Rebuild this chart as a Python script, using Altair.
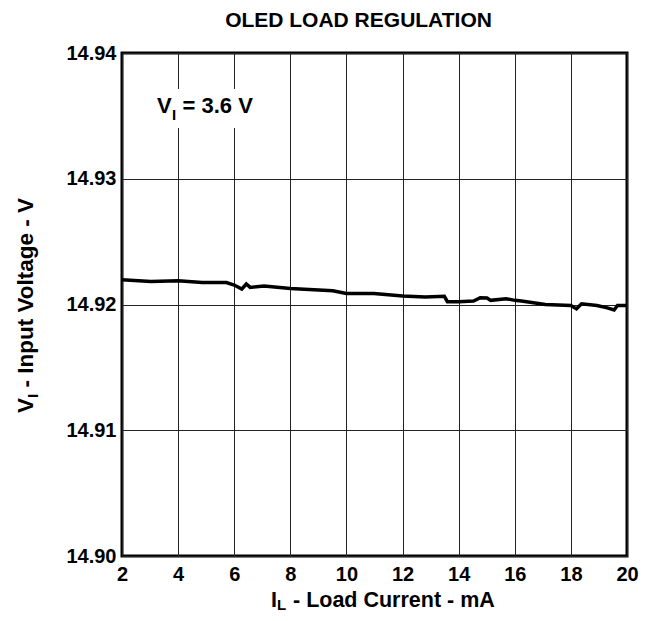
import altair as alt
import pandas as pd

# Data
current_ma = [2.0, 3.03, 4.0, 4.86, 5.72, 6.0, 6.27, 6.43, 6.57, 7.06, 8.0, 9.51, 10.0, 10.98,
              12.0, 12.81, 13.49, 13.6, 14.0, 14.53, 14.77, 15.01, 15.14, 15.69, 16.0, 16.24,
              17.09, 18.0, 18.2, 18.38, 18.93, 19.3, 19.54, 19.66, 20.0]
voltage_v = [14.92196, 14.92182, 14.92188, 14.92174, 14.92174, 14.92155, 14.92122, 14.92163,
             14.92136, 14.92147, 14.92128, 14.92109, 14.92087, 14.92087, 14.92068, 14.92060,
             14.92065, 14.92022, 14.92022, 14.92027, 14.92054, 14.92052, 14.92033, 14.92046,
             14.92033, 14.92027, 14.92000, 14.91992, 14.91965, 14.92005, 14.91992, 14.91973,
             14.91956, 14.91992, 14.91992]
x_ticks = [2, 4, 6, 8, 10, 12, 14, 16, 18, 20]
y_ticks = [14.90, 14.91, 14.92, 14.93, 14.94]

df = pd.DataFrame({"current": current_ma, "voltage": voltage_v})

FONT = "Liberation Sans"
one = alt.Data(values=[{}])

x_scale = alt.Scale(domain=[2, 20], nice=False)
y_scale = alt.Scale(domain=[14.90, 14.94], nice=False, zero=False)

line = alt.Chart(df).mark_line(color="black", strokeWidth=3.5, clip=True).encode(
    x=alt.X("current:Q", scale=x_scale,
            axis=alt.Axis(values=x_ticks, title=None, ticks=False, domain=False,
                          labelFontSize=20, labelFont=FONT, labelFontWeight="bold",
                          labelColor="black", labelPadding=8, gridColor="#222222",
                          gridWidth=1, gridOpacity=1, labelFlush=False)),
    y=alt.Y("voltage:Q", scale=y_scale,
            axis=alt.Axis(values=y_ticks, format=".2f", title=None, ticks=False, domain=False,
                          labelFontSize=20, labelFont=FONT, labelFontWeight="bold",
                          labelColor="black", labelPadding=6, gridColor="#222222",
                          gridWidth=1, gridOpacity=1, labelFlush=False)),
)

box = alt.Chart(one).mark_rect(color="white").encode(
    x=alt.value(24), x2=alt.value(142), y=alt.value(36), y2=alt.value(75))


def txt(s, x, y, size=21, angle=0, align="left"):
    return alt.Chart(one).mark_text(
        text=s, font=FONT, fontWeight="bold", fontSize=size, color="black",
        align=align, baseline="alphabetic", angle=angle).encode(
        x=alt.value(x), y=alt.value(y))


title = [txt("OLED LOAD REGULATION", 236.5, -26, 21, align="center")]
annot = [txt("V", 35, 60, 22), txt("I", 50, 67, 15), txt("= 3.6 V", 60.5, 60, 22)]
xtitle = [txt("I", 149, 554, 21.5), txt("L", 155, 557, 15),
          txt("- Load Current - mA", 171, 554, 21.5)]
ytitle = [txt("V", -89, 360, 22.5, angle=270), txt("I", -84, 345, 15, angle=270),
          txt("- Input Voltage - V", -89, 334.5, 22.5, angle=270)]

chart = alt.layer(box, line, *title, *annot, *xtitle, *ytitle).properties(
    width=505, height=503,
    autosize=alt.AutoSizeParams(type="none"),
    padding={"left": 114, "top": 45, "right": 12, "bottom": 57},
).configure_view(stroke="black", strokeWidth=3)

chart.save("out.html", embed_options={"renderer": "svg", "actions": False})
